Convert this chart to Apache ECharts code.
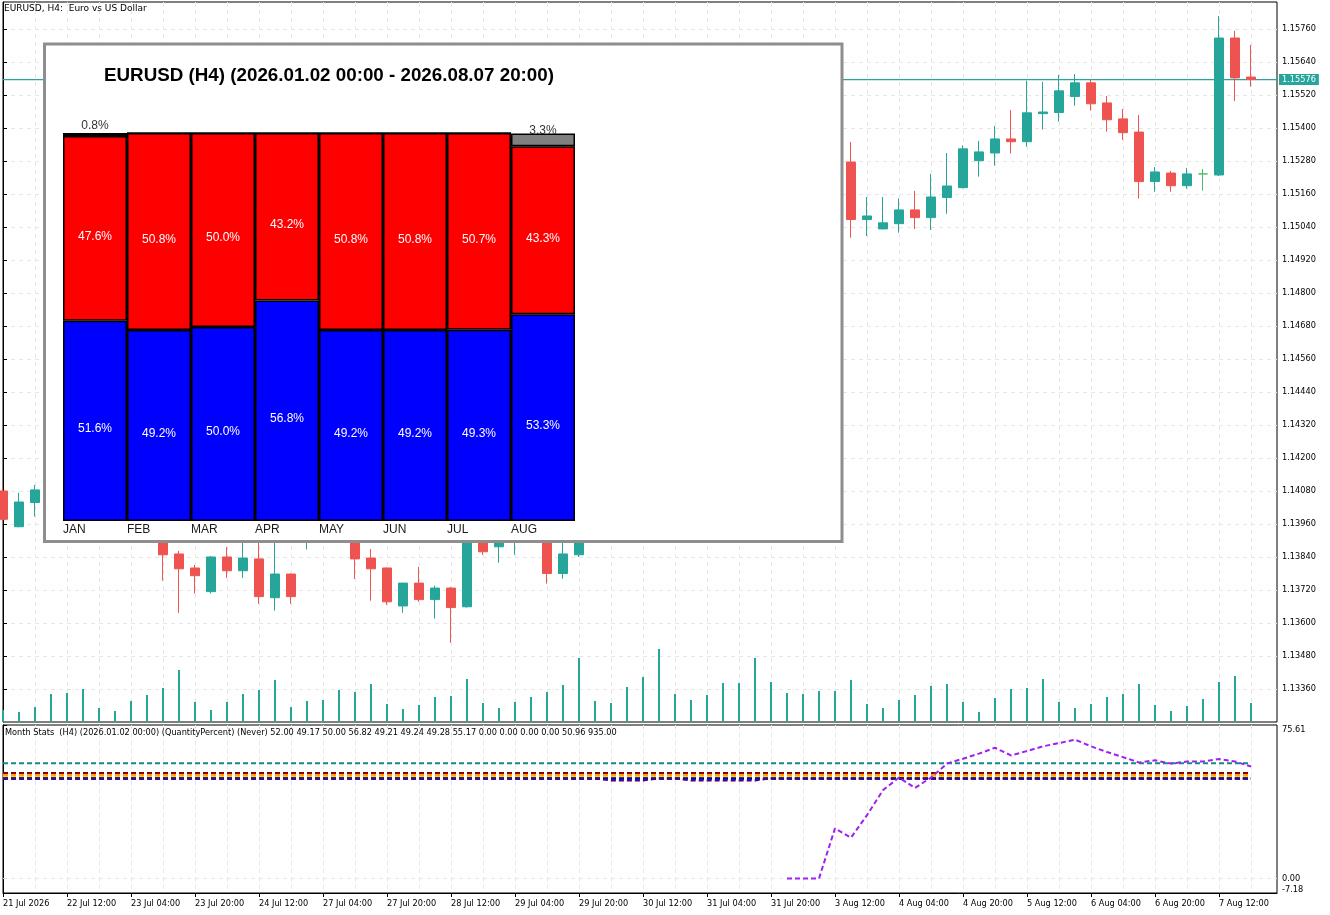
<!DOCTYPE html>
<html>
<head>
<meta charset="utf-8">
<title>EURUSD H4 - Month Stats</title>
<script src="https://cdn.jsdelivr.net/npm/echarts@6/dist/echarts.min.js"></script>
<style>
  html, body { margin: 0; padding: 0; background: #fff; }
  #chart { width: 1330px; height: 915px; }
</style>
</head>
<body>
<div id="chart"></div>
<script>
// H4 bars from 21 Jul 2026 20:00 to 7 Aug 2026 20:00 (79 bars)
const opens = [
  1.14080, 1.13950, 1.14038, 1.14084, 1.14110, 1.14075, 1.14040, 1.14055, 1.14030, 1.13985,
  1.13950, 1.13851, 1.13800, 1.13714, 1.13840, 1.13790, 1.13833, 1.13692, 1.13778, 1.13905,
  1.13960, 1.13985, 1.13930, 1.13836, 1.13800, 1.13662, 1.13745, 1.13685, 1.13727, 1.13659,
  1.13960, 1.13877, 1.13905, 1.13945, 1.13975, 1.13780, 1.13848, 1.13990, 1.14010, 1.14040,
  1.14100, 1.14220, 1.14560, 1.14600, 1.14580, 1.14650, 1.14730, 1.14820, 1.15200, 1.15240,
  1.15260, 1.15240, 1.15280, 1.15276, 1.15067, 1.15033, 1.15052, 1.15102, 1.15074, 1.15147,
  1.15183, 1.15281, 1.15309, 1.15360, 1.15350, 1.15452, 1.15456, 1.15514, 1.15564, 1.15491,
  1.15433, 1.15385, 1.15205, 1.15236, 1.15190, 1.15233, 1.15229, 1.15727, 1.15585
];
const highs = [
  1.14091, 1.14074, 1.14102, 1.14130, 1.14150, 1.14120, 1.14070, 1.14090, 1.14060, 1.14020,
  1.13975, 1.13862, 1.13811, 1.13844, 1.13876, 1.13905, 1.13900, 1.13895, 1.13780, 1.13990,
  1.14010, 1.14000, 1.13950, 1.13869, 1.13802, 1.13746, 1.13804, 1.13736, 1.13731, 1.13980,
  1.13990, 1.13950, 1.13970, 1.14000, 1.13990, 1.13905, 1.14010, 1.14030, 1.14060, 1.14120,
  1.14250, 1.14620, 1.14640, 1.14650, 1.14680, 1.14760, 1.14850, 1.15280, 1.15300, 1.15290,
  1.15320, 1.15310, 1.15340, 1.15349, 1.15149, 1.15149, 1.15144, 1.15171, 1.15233, 1.15309,
  1.15337, 1.15353, 1.15407, 1.15465, 1.15572, 1.15568, 1.15593, 1.15596, 1.15577, 1.15516,
  1.15469, 1.15447, 1.15258, 1.15244, 1.15255, 1.15251, 1.15807, 1.15753, 1.15702
];
const lows = [
  1.13967, 1.13948, 1.13987, 1.14050, 1.14060, 1.14020, 1.14000, 1.14020, 1.13960, 1.13930,
  1.13754, 1.13637, 1.13707, 1.13707, 1.13764, 1.13764, 1.13670, 1.13645, 1.13670, 1.13867,
  1.13920, 1.13910, 1.13760, 1.13681, 1.13666, 1.13637, 1.13677, 1.13616, 1.13528, 1.13656,
  1.13848, 1.13819, 1.13848, 1.13910, 1.13743, 1.13761, 1.13840, 1.13950, 1.13980, 1.14020,
  1.14080, 1.14180, 1.14500, 1.14540, 1.14560, 1.14620, 1.14700, 1.14780, 1.15140, 1.15200,
  1.15220, 1.15200, 1.15230, 1.15001, 1.15007, 1.15031, 1.15019, 1.15033, 1.15029, 1.15088,
  1.15180, 1.15223, 1.15263, 1.15307, 1.15332, 1.15394, 1.15423, 1.15481, 1.15463, 1.15387,
  1.15357, 1.15143, 1.15168, 1.15168, 1.15179, 1.15172, 1.15225, 1.15498, 1.15550
];
const closes = [
  1.13977, 1.14040, 1.14084, 1.14110, 1.14075, 1.14040, 1.14055, 1.14030, 1.13985, 1.13950,
  1.13848, 1.13797, 1.13772, 1.13840, 1.13790, 1.13836, 1.13696, 1.13778, 1.13696, 1.13960,
  1.13985, 1.13930, 1.13833, 1.13797, 1.13677, 1.13745, 1.13685, 1.13727, 1.13656, 1.13960,
  1.13859, 1.13925, 1.13945, 1.13975, 1.13780, 1.13851, 1.13990, 1.14010, 1.14040, 1.14100,
  1.14220, 1.14560, 1.14600, 1.14580, 1.14650, 1.14730, 1.14820, 1.15200, 1.15250, 1.15260,
  1.15240, 1.15280, 1.15270, 1.15067, 1.15080, 1.15055, 1.15102, 1.15074, 1.15149, 1.15189,
  1.15324, 1.15313, 1.15360, 1.15350, 1.15455, 1.15458, 1.15535, 1.15564, 1.15488, 1.15430,
  1.15383, 1.15205, 1.15240, 1.15190, 1.15233, 1.15233, 1.15727, 1.15582, 1.15576
];
const volumes = [
  1200, 1000, 1500, 2800, 2900, 3300, 1400, 1100, 2100, 2700,
  3400, 5200, 2000, 1200, 2000, 2800, 3200, 4200, 1500, 2100,
  2200, 3200, 3000, 3800, 1800, 1300, 1700, 2500, 2600, 4300,
  1900, 1400, 2000, 2500, 3000, 3700, 6400, 2100, 1900, 3500,
  4500, 7300, 2800, 2200, 2700, 3900, 3900, 6400, 4000, 2900,
  2800, 3100, 3100, 4200, 1800, 1400, 2200, 2700, 3600, 3800,
  2000, 1000, 2400, 3300, 3400, 4300, 2000, 1400, 1800, 2500,
  2800, 3800, 1700, 1100, 1600, 2300, 4000, 4600, 1900
];

// time axis labels (bar index -> text)
const xLabelBars = [0, 4, 8, 12, 16, 20, 24, 28, 32, 36, 40, 44, 48, 52, 56, 60, 64, 68, 72, 76];
const xLabels = ['21 Jul 2026', '22 Jul 12:00', '23 Jul 04:00', '23 Jul 20:00', '24 Jul 12:00',
  '27 Jul 04:00', '27 Jul 20:00', '28 Jul 12:00', '29 Jul 04:00', '29 Jul 20:00', '30 Jul 12:00',
  '31 Jul 04:00', '31 Jul 20:00', '3 Aug 12:00', '4 Aug 04:00', '4 Aug 20:00', '5 Aug 12:00',
  '6 Aug 04:00', '6 Aug 20:00', '7 Aug 12:00'];

// price scale
const priceMin = 1.13240;
const priceMax = 1.15858;
const priceStep = 0.0012;

// month panel (percent of bars)
const months = ['JAN', 'FEB', 'MAR', 'APR', 'MAY', 'JUN', 'JUL', 'AUG'];
const bullPct = [51.6, 49.2, 50.0, 56.8, 49.2, 49.2, 49.3, 53.3];
const bearPct = [47.6, 50.8, 50.0, 43.2, 50.8, 50.8, 50.7, 43.3];
const flatPct = [0.8, 0, 0, 0, 0, 0, 0, 3.3];

// indicator window
const monthValues = [52.00, 49.17, 50.00, 56.82, 49.21, 49.24, 49.28, 55.17, 0.00, 0.00, 0.00, 0.00];
const avgValue = 50.96;
const barCount = 935;
const julDipBars = [38, 39, 40, 43, 44, 45, 46, 47];
const julDipValue = 48.3;
const augStartBar = 49;
const augLine = [0, 0, 0, 24.7, 20.1, 31.2, 43.5, 49.7, 44.6, 49.7,
  56.6, 59.0, 61.5, 64.4, 60.6, 62.8, 65.1, 66.7, 68.4, 65.1,
  62.3, 59.8, 57.1, 58.2, 56.6, 57.6, 57.6, 58.8, 57.6, 55.17];
const indMin = -7.18;
const indMax = 75.61;

const uiFont = 'DejaVu Sans';
const uiSize = 8.2;
const up = '#26a69a';
const down = '#ef5350';
const gridLine = {show: true, showMinLine: false, showMaxLine: false,
  lineStyle: {color: '#e6e6e6', type: [4, 4], width: 1}};

const barIdx = opens.map((_, i) => i);
const lastBar = barIdx.length - 1;
const xMax = 79.625;
const candleData = barIdx.map(i => {
  const v = [i, opens[i], closes[i], lows[i], highs[i]];
  if (opens[i] !== closes[i]) return v;
  return {value: v, itemStyle: {color: '#4cbb6c', color0: '#4cbb6c', borderColor: '#4cbb6c', borderColor0: '#4cbb6c'}};
});
const volumeData = barIdx.map(i => [i, volumes[i]]);
const lastClose = closes[lastBar];
const constLine = v => barIdx.map(i => [i, v]);
const julLine = barIdx.map(i => [i, julDipBars.includes(i) ? julDipValue : monthValues[6]]);
const augData = augLine.map((v, k) => [augStartBar + k, v]);
const headerNums = monthValues.concat([avgValue, barCount]).map(v => v.toFixed(2)).join(' ');

const indLine = (name, data, color) => ({
  type: 'line', name: name, xAxisIndex: 2, yAxisIndex: 2, data: data,
  symbol: 'none', silent: true, z: 3,
  lineStyle: {color: color, width: 2, type: [5, 3]}
});

const uiText = {fontFamily: uiFont, fontSize: uiSize, color: '#000'};
const pctLabel = (offsetY, color) => ({
  show: true, position: 'inside', offset: [0, offsetY], color: color,
  fontFamily: 'Liberation Sans', fontSize: 12,
  formatter: p => p.value > 0 ? p.value.toFixed(1) + '%' : ''
});

const chart = echarts.init(document.getElementById('chart'));
chart.setOption({
  animation: false,
  backgroundColor: '#fff',
  title: [
    {text: 'EURUSD, H4:  Euro vs US Dollar', left: 4, top: 4, padding: 0,
      textStyle: {fontFamily: uiFont, fontSize: 9, fontWeight: 'normal', color: '#000'}},
    {text: 'Month Stats  (H4) (2026.01.02 00:00) (QuantityPercent) (Never) ' + headerNums,
      left: 5, top: 729, padding: 0, textStyle: Object.assign({fontWeight: 'normal'}, uiText)},
    {text: 'EURUSD (H4) (2026.01.02 00:00 - 2026.08.07 20:00)', left: 329, top: 66, padding: 0,
      textAlign: 'center', z: 60,
      textStyle: {fontFamily: 'Liberation Sans', fontSize: 18.8, fontWeight: 'bold', color: '#000'}}
  ],
  graphic: [
    {type: 'rect', z: 50, silent: true,
      shape: {x: 44.5, y: 44, width: 797.5, height: 497.5},
      style: {fill: '#fff', stroke: '#8e8e8e', lineWidth: 3}}
  ],
  grid: [
    {left: 3, top: 2, width: 1274, height: 720, show: true, borderColor: '#000', borderWidth: 1,
      backgroundColor: '#fff', outerBoundsMode: 'none', containLabel: false},
    {left: 3, top: 725, width: 1274, height: 168, show: true, borderColor: '#000', borderWidth: 1,
      backgroundColor: '#fff', outerBoundsMode: 'none', containLabel: false},
    {left: 63, top: 133, width: 512, height: 388, outerBoundsMode: 'none', containLabel: false}
  ],
  xAxis: [
    {gridIndex: 0, type: 'value', min: 0, max: xMax, interval: 2,
      axisLine: {show: false}, axisTick: {show: false}, axisLabel: {show: false}, splitLine: gridLine},
    {gridIndex: 1, type: 'value', min: 0, max: xMax, interval: 2, position: 'top',
      axisLine: {show: false}, axisTick: {show: false}, axisLabel: {show: false}, splitLine: gridLine},
    {gridIndex: 1, type: 'value', min: 0, max: xMax, position: 'bottom',
      axisLine: {show: true, lineStyle: {color: '#000', width: 1}},
      axisTick: {show: true, length: 4, customValues: xLabelBars, lineStyle: {color: '#000'}},
      axisLabel: Object.assign({customValues: xLabelBars, align: 'left', margin: 7,
        formatter: v => { const k = xLabelBars.indexOf(v); return k >= 0 ? xLabels[k] : ''; }}, uiText),
      splitLine: {show: false}},
    {gridIndex: 2, type: 'category', data: months, position: 'top', boundaryGap: true,
      axisLine: {show: false}, axisTick: {show: false}, axisLabel: {show: false}, splitLine: {show: false}},
    {gridIndex: 2, type: 'value', min: -0.5, max: 7.5, interval: 1, position: 'bottom', z: 60,
      axisLine: {show: false}, axisTick: {show: false}, splitLine: {show: false},
      axisLabel: {align: 'left', margin: 3, showMinLabel: true, showMaxLabel: false,
        fontFamily: 'Liberation Sans', fontSize: 12, color: '#1a1a1a',
        formatter: v => months[Math.round(v + 0.5)] || ''}}
  ],
  yAxis: [
    {gridIndex: 0, type: 'value', position: 'right', min: priceMin, max: priceMax, interval: priceStep,
      axisLine: {show: true, lineStyle: {color: '#000', width: 1}},
      axisTick: {show: true, length: 4, lineStyle: {color: '#000'}},
      axisLabel: Object.assign({showMinLabel: false, showMaxLabel: false, margin: 5,
        formatter: v => v.toFixed(5)}, uiText),
      splitLine: gridLine},
    {gridIndex: 0, type: 'value', min: 0, max: 72000, show: false},
    {gridIndex: 1, type: 'value', position: 'right', min: indMin, max: indMax,
      axisLine: {show: true, lineStyle: {color: '#000', width: 1}},
      axisTick: {show: true, length: 4, customValues: [indMax, 0, indMin], lineStyle: {color: '#000'}},
      axisLabel: Object.assign({customValues: [indMax, 0, indMin], margin: 5,
        formatter: v => v === indMax ? '{t|' + v.toFixed(2) + '}' : (v === indMin ? '{b|' + v.toFixed(2) + '}' : v.toFixed(2)),
        rich: {
          t: {fontFamily: uiFont, fontSize: uiSize, color: '#000', padding: [10, 0, 0, 0]},
          b: {fontFamily: uiFont, fontSize: uiSize, color: '#000', padding: [0, 0, 6, 0]}
        }}, uiText),
      splitLine: {show: false}},
    {gridIndex: 2, type: 'value', min: 0, max: 100, show: false},
    // bid price tag on the price scale
    {gridIndex: 0, type: 'value', position: 'right', min: priceMin, max: priceMax, z: 5,
      axisLine: {show: false}, axisTick: {show: false}, splitLine: {show: false},
      axisLabel: {customValues: [lastClose], margin: 2, formatter: v => v.toFixed(5),
        backgroundColor: up, color: '#fff', padding: [2, 3, 1, 3],
        fontFamily: uiFont, fontSize: uiSize}}
  ],
  series: [
    {type: 'candlestick', name: 'EURUSD', xAxisIndex: 0, yAxisIndex: 0,
      encode: {x: 0, y: [1, 2, 3, 4]}, data: candleData, barWidth: 10, z: 3,
      itemStyle: {color: up, color0: down, borderColor: up, borderColor0: down, borderWidth: 1,
        borderColorDoji: '#4cbb6c'}},
    {type: 'line', name: 'Bid', xAxisIndex: 0, yAxisIndex: 0,
      data: [[0, lastClose], [xMax, lastClose]],
      symbol: 'none', silent: true, z: 2,
      lineStyle: {color: up, width: 1.3, type: 'solid'}},
    {type: 'bar', name: 'Volumes', xAxisIndex: 0, yAxisIndex: 1, data: volumeData,
      barWidth: 2, z: 2, silent: true, itemStyle: {color: up}},

    {type: 'line', name: 'zero', xAxisIndex: 2, yAxisIndex: 2, data: [[0, 0], [xMax, 0]],
      symbol: 'none', silent: true, z: 2, lineStyle: {color: '#e6e6e6', width: 1, type: [4, 4]}},
    indLine('APR', constLine(monthValues[3]), '#0e8c8c'),
    indLine('JAN', constLine(monthValues[0]), '#8b0000'),
    indLine('AVG', constLine(avgValue), '#ffa500'),
    indLine('MAR', constLine(monthValues[2]), '#ffd700'),
    indLine('FEB', constLine(monthValues[1]), '#008000'),
    indLine('MAY', constLine(monthValues[4]), '#0000ff'),
    indLine('JUN', constLine(monthValues[5]), '#0000cd'),
    indLine('JUL', julLine, '#4b0082'),
    indLine('AUG', augData, '#a020f0'),

    {type: 'bar', name: 'up', xAxisIndex: 3, yAxisIndex: 3, stack: 'm', z: 60,
      barWidth: '100%', data: bullPct,
      itemStyle: {color: '#0000ff', borderColor: '#000', borderWidth: 1.5},
      label: pctLabel(8, '#fff')},
    {type: 'bar', name: 'down', xAxisIndex: 3, yAxisIndex: 3, stack: 'm', z: 60,
      barWidth: '100%', data: bearPct,
      itemStyle: {color: '#ff0000', borderColor: '#000', borderWidth: 1.5},
      label: pctLabel(8, '#fff')},
    {type: 'bar', name: 'flat', xAxisIndex: 3, yAxisIndex: 3, stack: 'm', z: 60,
      barWidth: '100%', data: flatPct,
      itemStyle: {color: '#808080', borderColor: '#000', borderWidth: 1.5},
      label: pctLabel(-9, '#333')}
  ]
});
</script>
</body>
</html>
